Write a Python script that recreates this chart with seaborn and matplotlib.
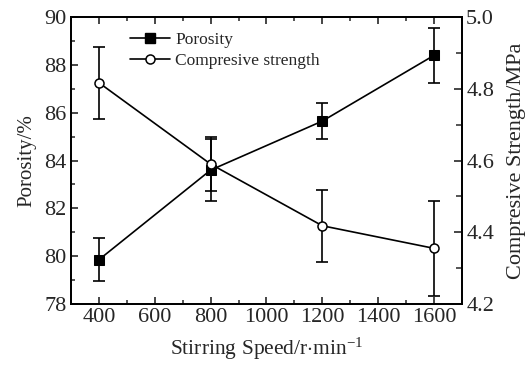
import matplotlib
matplotlib.use("Agg")
import matplotlib.pyplot as plt
import seaborn as sns
import pandas as pd
from matplotlib.ticker import MultipleLocator
from matplotlib.lines import Line2D

speed = [400, 800, 1200, 1600]
porosity = [79.85, 83.6, 85.65, 88.4]
porosity_err = [0.9, 1.3, 0.75, 1.15]
strength = [4.817, 4.59, 4.418, 4.355]
strength_err = [0.1, 0.075, 0.1, 0.133]

sns.set_style("ticks")
plt.rcParams['font.family'] = ['Liberation Serif', 'DejaVu Serif']
plt.rcParams['mathtext.fontset'] = 'custom'
plt.rcParams['mathtext.rm'] = 'Liberation Serif'
plt.rcParams['mathtext.it'] = 'Liberation Serif:italic'

df = pd.DataFrame({"speed": speed, "porosity": porosity, "strength": strength})

fig = plt.figure(figsize=(5.31, 3.72), dpi=100)
ax = fig.add_axes([0.1337, 0.183, 0.7363, 0.771])
ax2 = ax.twinx()

sns.lineplot(data=df, x="speed", y="porosity", ax=ax, color="black", lw=1.2,
             marker="s", markersize=7, markerfacecolor="black", markeredgecolor="black", zorder=3)
ax.errorbar(speed, porosity, yerr=porosity_err, fmt="none", ecolor="black",
            elinewidth=1.2, capsize=4, capthick=1.2, zorder=2)

sns.lineplot(data=df, x="speed", y="strength", ax=ax2, color="black", lw=1.2,
             marker="o", markersize=6.5, markerfacecolor="white", markeredgecolor="black",
             markeredgewidth=1.1, zorder=3)
ax2.errorbar(speed, strength, yerr=strength_err, fmt="none", ecolor="black",
             elinewidth=1.2, capsize=4, capthick=1.2, zorder=2)

ax.set_xlim(300, 1700)
ax.set_ylim(78, 90)
ax2.set_ylim(4.2, 5.0)
ax.xaxis.set_major_locator(MultipleLocator(200))
ax.xaxis.set_minor_locator(MultipleLocator(100))
ax.yaxis.set_major_locator(MultipleLocator(2))
ax.yaxis.set_minor_locator(MultipleLocator(1))
ax2.yaxis.set_major_locator(MultipleLocator(0.2))
ax2.yaxis.set_minor_locator(MultipleLocator(0.1))
ax2.set_yticks(ax2.get_yticks())
ax2.set_yticklabels([f"{v:.1f}" for v in ax2.get_yticks()])
ax2.set_ylim(4.2, 5.0)

ax.tick_params(axis="both", which="major", direction="in", length=5, width=1.2,
               labelsize=16, top=True, right=False, pad=3)
ax.tick_params(axis="both", which="minor", direction="in", length=3, width=1.1,
               top=True, right=False)
ax2.tick_params(axis="y", which="major", direction="in", length=6, width=1.2,
                labelsize=16, pad=3)
ax2.tick_params(axis="y", which="minor", direction="in", length=4, width=1.1)

for a in (ax, ax2):
    for s in a.spines.values():
        s.set_linewidth(1.3)
        s.set_color("black")

ax.set_xlabel("Stirring Speed/r$\\cdot$min$^{-1}$", fontsize=15.5, labelpad=6)
ax.set_ylabel("Porosity/%", fontsize=15, labelpad=6)
ax2.set_ylabel("Compresive Strength/MPa", fontsize=16, labelpad=9)

handles = [
    Line2D([], [], color="black", lw=1.2, marker="s", markersize=7, markerfacecolor="black"),
    Line2D([], [], color="black", lw=1.2, marker="o", markersize=6.5, markerfacecolor="white",
           markeredgewidth=1.1),
]
ax2.legend(handles, ["Porosity", "Compresive strength"], loc="upper left",
           bbox_to_anchor=(0.125, 0.985), frameon=False, fontsize=12.5,
           handlelength=2.3, handletextpad=0.3, labelspacing=0.3, borderaxespad=0.2)

fig.savefig("out.png", dpi=100)
